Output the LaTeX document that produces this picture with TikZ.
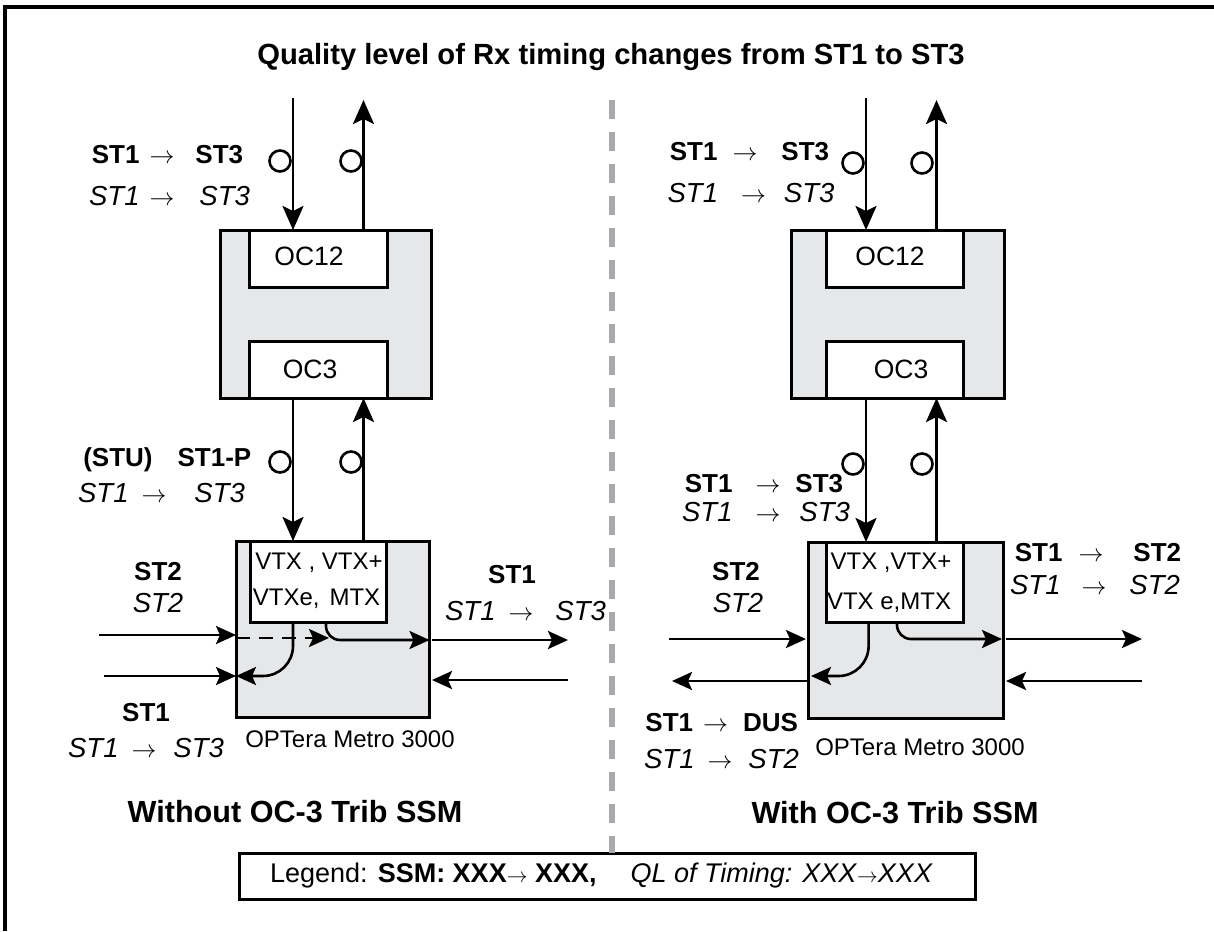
\documentclass[tikz,border=0pt]{standalone}
\usepackage{fontspec}
\setmainfont{Liberation Sans}
\usetikzlibrary{arrows.meta}
\definecolor{shelfgray}{HTML}{E6E7E8}
\definecolor{dividergray}{HTML}{A7A9AC}
\newcommand{\toarrow}{{\fontsize{24}{24}\selectfont$\rightarrow$}}
\newcommand{\qlfont}{\fontsize{27.5}{27.5}\selectfont\itshape}
\newcommand{\ssmrow}[4]{\textbf{#1}\hspace{#2pt}\kern-3pt\toarrow\kern-3pt\hspace{#3pt}\textbf{#4}}
\newcommand{\qlrow}[4]{{\qlfont #1}\hspace{#2pt}\kern-4pt\toarrow\kern-4pt\hspace{#3pt}{\qlfont #4}}
\tikzstyle{arrow} = [line width=2.6pt,->,>={Stealth[length=24pt,width=21pt,inset=5pt]}]
\tikzstyle{arrowsmall} = [line width=2.6pt,->,>={Stealth[length=20pt,width=18pt,inset=4pt]}]
\tikzstyle{txt} = [inner sep=0pt,text height=18pt,text depth=0pt,font=\fontsize{26}{26}\selectfont]
\tikzstyle{vtxtxt} = [txt,font=\fontsize{24}{24}\selectfont]
\tikzstyle{nametxt} = [txt,font=\fontsize{24}{24}\selectfont]
\tikzstyle{octxt} = [txt,font=\fontsize{26.5}{26.5}\selectfont]
\tikzstyle{captiontxt} = [txt,font=\fontsize{30.6}{30.6}\selectfont\bfseries]
\tikzstyle{shelf} = [draw,line width=3pt,fill=shelfgray,anchor=north west,inner sep=0pt,outer sep=0pt]
\tikzstyle{card} = [draw,line width=3pt,fill=white,anchor=north west,inner sep=0pt,outer sep=0pt]
\tikzstyle{probe} = [draw,circle,line width=2.6pt,minimum size=21pt,inner sep=0pt]
\begin{document}
\begin{tikzpicture}[x=1pt,y=-1pt]
	\useasboundingbox (0,0) rectangle (1214,931);
	\coordinate (framebottom) at (5,931);
	\coordinate (framecorner) at (5,7);
	\coordinate (frameright) at (1214,7);
	\draw [line width=3.4pt] (framebottom) -- (framecorner) -- (frameright);
	\node [txt, font=\fontsize{29.2}{29.2}\selectfont\bfseries] (title) at (611,56) {Quality level of Rx timing changes from ST1 to ST3};
	\node [draw, line width=3pt, fill=white, minimum width=736pt, minimum height=46pt, inner sep=0pt, outer sep=0pt, font=\fontsize{27}{27}\selectfont] (legend) at (607,876) {Legend: \textbf{SSM: XXX}{\fontsize{20}{20}\selectfont$\rightarrow$}\textbf{ XXX,}\hspace{34pt}\textit{QL of Timing: XXX}{\fontsize{20}{20}\selectfont$\rightarrow$}\textit{XXX}\kern11pt};
	\coordinate (dividertop) at (612,100);
	\draw [line width=5.5pt, dividergray, dash pattern=on 19pt off 13pt] (dividertop) -- (dividertop |- legend.north);

	\node [shelf, minimum width=211pt, minimum height=168pt] (leftupper) at (220,230) {};
	\node [card, minimum width=138pt, minimum height=57pt] (leftoc12) at (249,230) {};
	\node [card, minimum width=138pt, minimum height=57pt] (leftoc3) at (249,341) {};
	\node [octxt] (leftoc12text) at (309,256) {OC12};
	\node [octxt] (leftoc3text) at (310,369) {OC3};
	\node [shelf, minimum width=193.5pt, minimum height=176pt] (leftlower) at (236,541) {};
	\node [card, minimum width=136pt, minimum height=81pt] (leftvtx) at (250,541) {};
	\node [vtxtxt] (leftvtxa) at (319,560) {VTX , VTX+};
	\node [vtxtxt] (leftvtxb) at (316.5,596) {VTXe,\hspace{10pt}MTX};
	\node [nametxt] (leftname) at (350,738) {OPTera Metro 3000};

	\coordinate (leftrx) at (293,98);
	\coordinate (lefttx) at (363.5,100);
	\draw [arrow] (leftrx) -- (leftrx |- leftupper.north);
	\draw [arrow] (leftupper.north -| lefttx) -- (lefttx);
	\draw [line width=2.6pt] (leftupper.south -| leftrx) -- ++(0,100) coordinate (leftrxmid);
	\draw [arrow] (leftrxmid) -- (leftrxmid |- leftlower.north);
	\draw [line width=2.6pt] (leftlower.north -| lefttx) -- ++(0,-50) coordinate (lefttxmid);
	\draw [arrow] (lefttxmid) -- (lefttxmid |- leftupper.south);
	\node [probe] (leftprobea) at (280,161) {};
	\node [probe] (leftprobeb) at (351,161) {};
	\node [probe] (leftprobec) at (280,462) {};
	\node [probe] (leftprobed) at (351,462) {};

	\node [txt] (leftssmtop) at (167.5,154) {\ssmrow{ST1}{13}{24}{ST3}};
	\node [txt] (leftqltop) at (169.5,196) {\qlrow{ST1}{14}{29}{ST3}};
	\node [txt] (leftssmmid) at (167.3,457) {\textbf{(STU)\hspace{25pt}ST1-P}};
	\node [txt] (leftqlmid) at (161.5,493) {\qlrow{ST1}{17}{32}{ST3}};
	\node [txt] (leftssmin) at (158,571) {\textbf{ST2}};
	\node [txt] (leftqlin) at (158,603) {\qlfont ST2};
	\node [txt] (leftssmout) at (512,574) {\textbf{ST1}};
	\node [txt] (leftqlout) at (525.5,611) {\qlrow{ST1}{17}{26}{ST3}};
	\node [txt] (leftssmback) at (146,712) {\textbf{ST1}};
	\node [txt] (leftqlback) at (146,748) {\qlrow{ST1}{17}{21}{ST3}};

	\coordinate (leftwestin) at (99,635);
	\coordinate (leftwestback) at (104,676);
	\coordinate (lefteastout) at (568,640);
	\coordinate (lefteastback) at (568,680);
	\coordinate (leftdashend) at (329,638);
	\draw [arrowsmall] (leftwestin) -- (leftwestin -| leftlower.west);
	\draw [arrowsmall] (leftwestback) -- (leftwestback -| leftlower.west);
	\draw [arrowsmall] ([xshift=2.5pt]leftlower.east |- lefteastout) -- (lefteastout);
	\draw [arrowsmall] (lefteastback) -- ([xshift=2.5pt]leftlower.east |- lefteastback);
	\draw [arrowsmall, dashed, dash pattern=on 14pt off 9pt] (leftlower.west |- leftdashend) -- (leftdashend);
	\draw [arrowsmall, rounded corners=30pt] (leftvtx.south -| leftrx) |- (leftlower.west |- leftwestback);
	\draw [arrowsmall, rounded corners=14pt] (326,622) |- (leftlower.east |- lefteastout);

	\node [shelf, minimum width=213pt, minimum height=168pt] (rightupper) at (791,230) {};
	\node [card, minimum width=137.5pt, minimum height=57pt] (rightoc12) at (826,230) {};
	\node [card, minimum width=137.5pt, minimum height=57pt] (rightoc3) at (826,341) {};
	\node [octxt] (rightoc12text) at (890,256) {OC12};
	\node [octxt] (rightoc3text) at (901,369) {OC3};
	\node [shelf, minimum width=195.5pt, minimum height=176pt] (rightlower) at (808,542) {};
	\node [card, minimum width=137pt, minimum height=80pt] (rightvtx) at (826,542) {};
	\node [vtxtxt] (rightvtxa) at (891,560) {VTX ,VTX+};
	\node [vtxtxt] (rightvtxb) at (889,600) {VTX e,MTX};
	\node [nametxt] (rightname) at (920,746) {OPTera Metro 3000};

	\coordinate (rightrx) at (866,98);
	\coordinate (righttx) at (936.5,100);
	\draw [arrow] (rightrx) -- (rightrx |- rightupper.north);
	\draw [arrow] (rightupper.north -| righttx) -- (righttx);
	\draw [line width=2.6pt] (rightupper.south -| rightrx) -- ++(0,100) coordinate (rightrxmid);
	\draw [arrow] (rightrxmid) -- (rightrxmid |- rightlower.north);
	\draw [line width=2.6pt] (rightlower.north -| righttx) -- ++(0,-50) coordinate (righttxmid);
	\draw [arrow] (righttxmid) -- (righttxmid |- rightupper.south);
	\node [probe] (rightprobea) at (853,163) {};
	\node [probe] (rightprobeb) at (922,163) {};
	\node [probe] (rightprobec) at (853,464) {};
	\node [probe] (rightprobed) at (922,464) {};

	\node [txt] (rightssmtop) at (749.5,151) {\ssmrow{ST1}{18}{27}{ST3}};
	\node [txt] (rightqltop) at (751,193) {\qlrow{ST1}{27}{22}{ST3}};
	\node [txt] (rightssmmid) at (764,483) {\ssmrow{ST1}{26}{18}{ST3}};
	\node [txt] (rightqlmid) at (766,512) {\qlrow{ST1}{27}{23}{ST3}};
	\node [txt] (rightssmin) at (736,571) {\textbf{ST2}};
	\node [txt] (rightqlin) at (738,603) {\qlfont ST2};
	\node [txt] (rightssmout) at (1098,552) {\ssmrow{ST1}{19}{33}{ST2}};
	\node [txt] (rightqlout) at (1095,585) {\qlrow{ST1}{25}{27}{ST2}};
	\node [txt] (rightssmback) at (721.7,722) {\ssmrow{ST1}{13}{18}{DUS}};
	\node [txt] (rightqlback) at (721.5,759) {\qlrow{ST1}{17}{20}{ST2}};

	\coordinate (rightwestin) at (669,639);
	\coordinate (rightwestback) at (672,681);
	\coordinate (righteastout) at (1142,639);
	\coordinate (righteastback) at (1142,681);
	\coordinate (rightcurveback) at (811,676);
	\coordinate (rightcurveout) at (1002,639);
	\draw [arrowsmall] (rightwestin) -- ([xshift=-2pt]rightlower.west |- rightwestin);
	\draw [arrowsmall] (rightlower.west |- rightwestback) -- (rightwestback);
	\draw [arrowsmall] ([xshift=2.5pt]rightlower.east |- righteastout) -- (righteastout);
	\draw [arrowsmall] (righteastback) -- ([xshift=2.5pt]rightlower.east |- righteastback);
	\draw [arrowsmall, rounded corners=30pt] (868.6,622) |- (rightcurveback);
	\draw [arrowsmall, rounded corners=14pt] (897,622) |- (rightcurveout);

	\node [captiontxt] (leftcaption) at (295,813) {Without OC-3 Trib SSM};
	\node [captiontxt] (rightcaption) at (895,814) {With OC-3 Trib SSM};
\end{tikzpicture}
\end{document}
